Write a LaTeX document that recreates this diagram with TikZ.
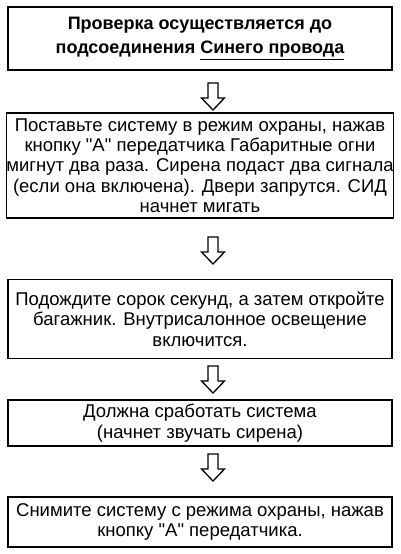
\documentclass[tikz,border=0pt]{standalone}
\usepackage{fontspec}
\setmainfont{Liberation Sans}[Ligatures=TeXOff]
\begin{document}
\begin{tikzpicture}[x=1pt,y=-1pt,
  box/.style={draw=black,line width=1.4pt,minimum width=384pt,inner sep=0pt,align=center,
    font=\fontsize{18.5}{20.3}\selectfont},
  boldbox/.style={box,font=\fontsize{18}{24}\selectfont\bfseries},
  hollow/.style={draw=black,line width=1.3pt,fill=white,line join=miter}]
\useasboundingbox (0,0) rectangle (400,554);
\node[boldbox,minimum height=63pt] (b1) at (200,38.5) {Проверка осуществляется до\\подсоединения \underline{Синего провода}};
\node[box,minimum height=105pt] (b2) at (200,165.5) {Поставьте систему в режим охраны, нажав\\кнопку "А" передатчика Габаритные огни\\мигнут два раза. Сирена подаст два сигнала\\(если она включена). Двери запрутся. СИД\\начнет мигать};
\node[box,minimum height=79pt] (b3) at (200,319) {Подождите сорок секунд, а затем откройте\\багажник. Внутрисалонное освещение\\включится.};
\node[box,minimum height=46pt] (b4) at (200,423) {Должна сработать система\\(начнет звучать сирена)};
\node[box,minimum height=50pt] (b5) at (200,522) {Снимите систему с режима охраны, нажав\\кнопку "А" передатчика.};
\foreach \t/\n in {83/a1,237/a2,366/a3,454/a4}{
  \coordinate (\n) at (213,\t);
  \draw[hollow] (\n) ++(-5,0) -- ++(0,15) -- ++(-6.5,0) -- ++(11.5,12) -- ++(11.5,-12) -- ++(-6.5,0) -- ++(0,-15) -- cycle;
}
\end{tikzpicture}
\end{document}
